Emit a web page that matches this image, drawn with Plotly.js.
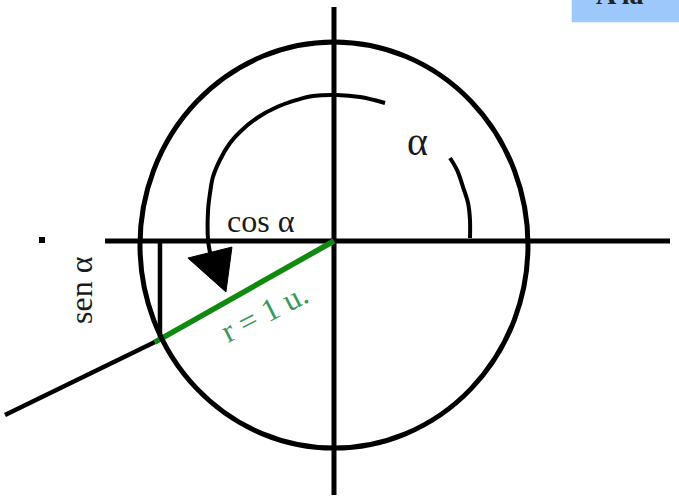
<!DOCTYPE html>
<html>
<head>
<meta charset="utf-8">
<script src="https://cdn.plot.ly/plotly-3.0.1.min.js"></script>
<style>html,body{margin:0;padding:0;background:#fff;}#plot{width:679px;height:503px;}</style>
</head>
<body>
<div id="plot"></div>
<script>
// Unit-circle diagram, coordinates in circle units (radius = 1)
const axisX = [-1.18, 1.732];           // horizontal axis extent
const axisY = [1.153, -1.251];          // vertical axis extent
const circleBox = [-1, 1, -1.02, 0.98]; // x0, x1, y0, y1 of the unit circle
const pointP = [-0.923, -0.498];        // end of radius r (cos α, sen α)
const rayEnd = [-1.696, -0.857];        // terminal side continuation
const senX = [-0.897, -0.897];
const senY = [0, -0.475];
const dotX = [-1.505];
const dotY = [0.005];
// angle arc (right piece, below the α label)
const arcRightX = [0.701, 0.701, 0.691, 0.665, 0.634, 0.598];
const arcRightY = [0.015, 0.103, 0.187, 0.266, 0.350, 0.409];
// angle arc (main piece, going round to the arrow)
const arcMainX = [0.263, 0.134, 0.015, -0.108, -0.191, -0.294, -0.397, -0.485, -0.536, -0.588, -0.624, -0.639, -0.649, -0.649, -0.634];
const arcMainY = [0.680, 0.709, 0.719, 0.714, 0.695, 0.660, 0.606, 0.537, 0.483, 0.399, 0.315, 0.236, 0.153, 0.005, -0.079];
const arrowX = [-0.753, -0.526, -0.557, -0.753];
const arrowY = [-0.084, -0.030, -0.251, -0.084];
const labels = ["cos α", "α", "sen α", "r = 1 u."];

const black = '#000000';
const traces = [
  {x: axisX, y: [0, 0], mode: 'lines', line: {color: black, width: 5}},
  {x: [0, 0], y: axisY, mode: 'lines', line: {color: black, width: 5}},
  {x: [pointP[0], rayEnd[0]], y: [pointP[1], rayEnd[1]], mode: 'lines', line: {color: black, width: 4.5}},
  {x: senX, y: senY, mode: 'lines', line: {color: black, width: 4.5}},
  {x: [0, pointP[0]], y: [0, pointP[1]], mode: 'lines', line: {color: '#0f8a0f', width: 5.5}},
  {x: arcRightX, y: arcRightY, mode: 'lines', line: {color: black, width: 4, shape: 'spline'}},
  {x: arcMainX, y: arcMainY, mode: 'lines', line: {color: black, width: 4, shape: 'spline'}},
  {x: arrowX, y: arrowY, mode: 'lines', fill: 'toself', fillcolor: black, line: {color: black, width: 1}},
  {x: dotX, y: dotY, mode: 'markers', marker: {color: black, size: 6, symbol: 'square'}}
];

const serif = 'Liberation Serif, Times New Roman, serif';
const layout = {
  width: 679, height: 503,
  margin: {l: 0, r: 0, t: 0, b: 0},
  paper_bgcolor: '#ffffff', plot_bgcolor: '#ffffff',
  showlegend: false,
  xaxis: {range: [-1.7216, 1.7784], visible: false, fixedrange: true},
  yaxis: {range: [-1.2906, 1.1872], visible: false, fixedrange: true},
  shapes: [
    {type: 'circle', xref: 'x', yref: 'y', x0: circleBox[0], x1: circleBox[1], y0: circleBox[2], y1: circleBox[3],
     line: {color: black, width: 5}},
    {type: 'rect', xref: 'paper', yref: 'paper', x0: 0.842, x1: 1, y0: 0.956, y1: 1,
     fillcolor: '#9cc8fb', line: {width: 0}, layer: 'below'}
  ],
  annotations: [
    {x: -0.376, y: 0.099, text: labels[0], showarrow: false, font: {family: serif, size: 32, color: '#1a1a1a'}},
    {x: 0.433, y: 0.488, text: labels[1], showarrow: false, font: {family: serif, size: 40, color: '#1a1a1a'}},
    {x: -1.304, y: -0.241, text: labels[2], textangle: -90, showarrow: false, font: {family: serif, size: 32, color: '#1a1a1a'}},
    {x: -0.356, y: -0.350, text: labels[3], textangle: -27, showarrow: false, font: {family: serif, size: 32, color: '#3a9a5a'}},
    {xref: 'paper', yref: 'paper', x: 0.875, y: 1, xanchor: 'left', yanchor: 'middle', yshift: 6,
     text: '<b>A la</b>', showarrow: false, font: {family: serif, size: 28, color: '#222'}}
  ]
};
Plotly.newPlot('plot', traces, layout, {staticPlot: true, displayModeBar: false});
</script>
</body>
</html>
